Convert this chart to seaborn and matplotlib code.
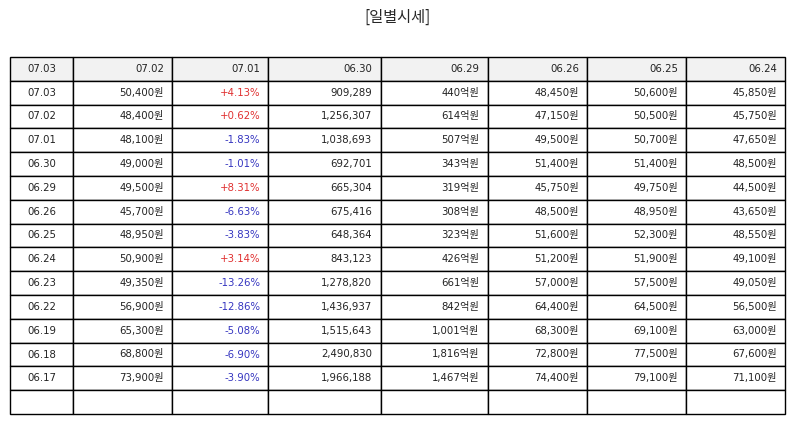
import matplotlib.pyplot as plt
import seaborn as sns

sns.set_theme(style='white')
plt.rcParams['font.family'] = ['DejaVu Sans', 'Noto Sans CJK KR']

header = ['07.03', '07.02', '07.01', '06.30', '06.29', '06.26', '06.25', '06.24']
dates = ['07.03', '07.02', '07.01', '06.30', '06.29', '06.26', '06.25', '06.24',
         '06.23', '06.22', '06.19', '06.18', '06.17']
close = [50400, 48400, 48100, 49000, 49500, 45700, 48950, 50900, 49350, 56900, 65300, 68800, 73900]
change = [4.13, 0.62, -1.83, -1.01, 8.31, -6.63, -3.83, 3.14, -13.26, -12.86, -5.08, -6.90, -3.90]
volume = [909289, 1256307, 1038693, 692701, 665304, 675416, 648364, 843123, 1278820,
          1436937, 1515643, 2490830, 1966188]
amount = [440, 614, 507, 343, 319, 308, 323, 426, 661, 842, 1001, 1816, 1467]
opn = [48450, 47150, 49500, 51400, 45750, 48500, 51600, 51200, 57000, 64400, 68300, 72800, 74400]
high = [50600, 50500, 50700, 51400, 49750, 48950, 52300, 51900, 57500, 64500, 69100, 77500, 79100]
low = [45850, 45750, 47650, 48500, 44500, 43650, 48550, 49100, 49050, 56500, 63000, 67600, 71100]

rows = []
for i in range(len(dates)):
    rows.append([dates[i], f'{close[i]:,}원', f'{change[i]:+.2f}%', f'{volume[i]:,}',
                 f'{amount[i]:,}억원', f'{opn[i]:,}원', f'{high[i]:,}원', f'{low[i]:,}원'])
rows.append([''] * 8)

widths = [63, 99, 96, 113, 107, 99, 99, 99]
tot = sum(widths)
col_widths = [w / tot for w in widths]

fig = plt.figure(figsize=(7.94, 4.25), dpi=100)
ax = fig.add_axes([0, 0, 1, 1])
ax.axis('off')
fig.text(0.5, 1 - 17 / 425, '[일별시세]', ha='center', va='center', fontsize=11,
         family=['Noto Sans CJK KR', 'DejaVu Sans'])

tbl = ax.table(cellText=[header] + rows, colWidths=col_widths,
               bbox=[10 / 794, 1 - 414 / 425, 775 / 794, 357 / 425])
tbl.auto_set_font_size(False)
for (r, c), cell in tbl.get_celld().items():
    cell.set_edgecolor('black')
    cell.set_linewidth(1.0)
    txt = cell.get_text()
    txt.set_fontsize(7.3)
    txt.set_color('#222222')
    if c == 0:
        cell._loc = 'center'
        txt.set_ha('center')
    else:
        cell._loc = 'right'
        txt.set_ha('right')
    cell.PAD = 0.08
    if r == 0:
        cell.set_facecolor('#f2f2f2')
    elif c == 2 and r - 1 < len(change):
        txt.set_color('#e03030' if change[r - 1] > 0 else '#3535c0')

fig.savefig('out.png', dpi=100)
